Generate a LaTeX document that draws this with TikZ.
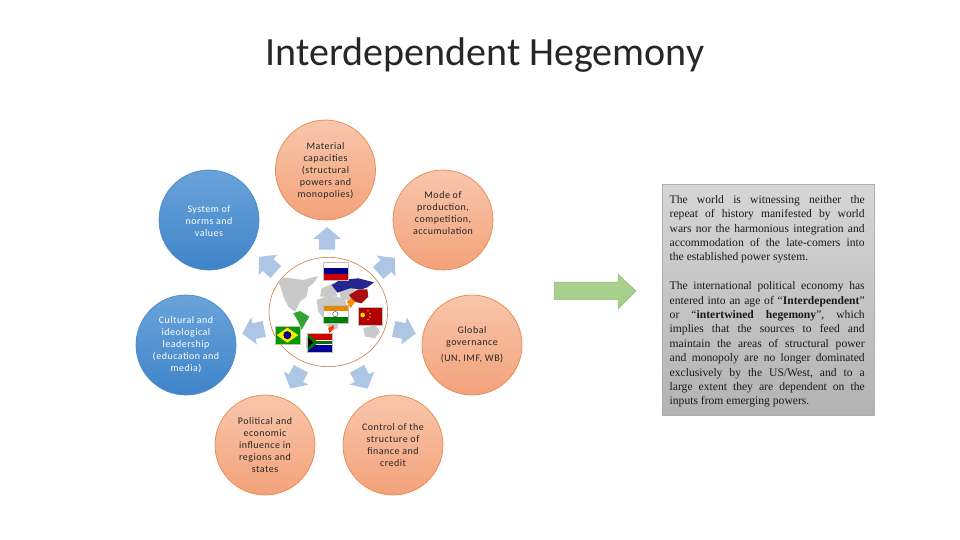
\documentclass[tikz,border=0pt]{standalone}
\usepackage{fontspec}
\setmainfont{Liberation Serif}
\newfontfamily\lblfont[LetterSpace=5]{Carlito}
\newfontfamily\titlefont{Carlito}
\definecolor{blueedge}{HTML}{4A8CCB}
\definecolor{bluetop}{HTML}{6AA3DB}
\definecolor{bluebot}{HTML}{3F84C8}
\definecolor{orangeedge}{HTML}{E58A4E}
\definecolor{orangetop}{HTML}{F8C6AC}
\definecolor{orangebot}{HTML}{F3A27A}
\definecolor{pale}{HTML}{AEC6E5}
\definecolor{landgray}{HTML}{C9C9C9}
\definecolor{greenfill}{HTML}{A8CF8E}
\definecolor{greenedge}{HTML}{94BB7C}
\newcommand{\jl}[1]{\hbox to 195pt{#1}}
\newcommand{\js}{\hskip 0pt plus 1fil\relax}
\tikzset{
 x=1pt,y=-1pt,
 circ/.style={circle,minimum size=100pt,inner sep=0pt,align=center,font=\lblfont\fontsize{10}{12}\selectfont,line width=.7pt},
 bluecirc/.style={circ,draw=blueedge,top color=bluetop,bottom color=bluebot,text=white},
 orangecirc/.style={circ,draw=orangeedge,top color=orangetop,bottom color=orangebot,text=black!85},
 pics/blockarrow/.style={code={\fill[pale] (-10.5,-8) -- (0,-8) -- (0,-14) -- (12,0) -- (0,14) -- (0,8) -- (-10.5,8) -- cycle;}},
 land/.style={fill=landgray,draw=none},
 flagedge/.style={draw=black!25,line width=.3pt}
}
\begin{document}
\begin{tikzpicture}
\useasboundingbox (0,0) rectangle (960,540);
\node[font=\titlefont\fontsize{40}{44}\selectfont,text=black!85] (title) at (485,55) {Interdependent Hegemony};

\node[orangecirc] (material) at (325.5,170) {~\\[-3pt]Material\\capacities\\(structural\\powers and\\monopolies)};
\node[bluecirc] (norms) at (209,220) {~\\[-3pt]System of\\norms and\\values};
\node[orangecirc] (mode) at (443,220) {Mode of\\production,\\competition,\\accumulation\\[2pt]~};
\node[bluecirc] (cultural) at (186,345) {Cultural and\\ideological\\leadership\\(education and\\media)};
\node[orangecirc] (global) at (472,345) {Global\\governance\\[4pt](UN, IMF, WB)};
\node[orangecirc] (political) at (265,445) {Political and\\economic\\influence in\\regions and\\states};
\node[orangecirc] (control) at (393,445) {Control of the\\structure of\\finance and\\credit};

\pic[rotate=90] at (327,239) {blockarrow};
\pic[rotate=42] at (386,266) {blockarrow};
\pic[rotate=-12] at (404,331) {blockarrow};
\pic[rotate=-62] at (362,378) {blockarrow};
\pic[rotate=-118] at (296,378) {blockarrow};
\pic[rotate=-168] at (254,331) {blockarrow};
\pic[rotate=138] at (268,265) {blockarrow};

\begin{scope}[shift={(250,200)},x=.3333pt,y=-.3333pt]
 \draw[draw=orangeedge!90!black,fill=white,line width=.6pt] (235,336) ellipse [x radius=178,y radius=164];
 % land
 \fill[land] (85,245) -- (100,232) -- (160,240) -- (205,228) -- (190,250) -- (175,262) -- (170,290) -- (150,305) -- (135,335) -- (115,320) -- (100,290) -- (95,270) -- cycle;
 \fill[land] (215,265) -- (250,250) -- (262,290) -- (240,290) -- (210,290) -- cycle;
 \fill[land] (200,300) -- (235,287) -- (285,295) -- (290,320) -- (270,345) -- (262,385) -- (240,395) -- (225,360) -- (205,335) -- cycle;
 \fill[land] (340,385) -- (375,375) -- (390,395) -- (375,415) -- (345,410) -- cycle;
 \fill[land] (270,265) -- (300,262) -- (350,290) -- (330,300) -- (300,305) -- (270,290) -- cycle;
 \fill[land] (345,340) -- (370,330) -- (385,345) -- (365,365) -- cycle;
 \fill[green!55!black!80] (130,340) -- (150,333) -- (178,350) -- (165,372) -- (155,390) -- (145,365) -- cycle;
 \fill[blue!50!black!85] (245,255) -- (270,240) -- (325,235) -- (372,247) -- (352,262) -- (335,268) -- (300,265) -- (262,278) -- cycle;
 \fill[red!65!black!95] (297,285) -- (325,268) -- (352,268) -- (355,290) -- (335,310) -- (312,305) -- cycle;
 \fill[orange!90!yellow] (290,305) -- (305,297) -- (315,305) -- (302,325) -- cycle;
 \fill[red!60!orange] (235,385) -- (250,375) -- (252,385) -- (238,400) -- cycle;
 % Russia flag
 \fill[white] (220,185) rectangle (293,203);
 \fill[blue!55!black] (220,203) rectangle (293,222);
 \fill[red!80!black] (220,222) rectangle (293,240);
 \draw[flagedge] (220,185) rectangle (293,240);
 % India flag
 \fill[orange!80!yellow!90!black] (219,315) rectangle (294,333);
 \fill[white] (219,333) rectangle (294,352);
 \fill[green!50!black] (219,352) rectangle (294,370);
 \draw[blue!50!black,line width=.3pt] (256,342.5) circle (8);
 \draw[flagedge] (219,315) rectangle (294,370);
 % China flag
 \fill[red!70!black] (323,322) rectangle (397,376);
 \fill[yellow!90!orange] (338,345) circle (7);
 \fill[yellow!90!orange] (354,332) circle (2.2) (360,341) circle (2.2) (360,351) circle (2.2) (354,359) circle (2.2);
 \draw[flagedge] (323,322) rectangle (397,376);
 % Brazil flag
 \fill[green!60!black] (75,378) rectangle (150,433);
 \fill[yellow!90!orange] (80,405.5) -- (112,383) -- (145,405.5) -- (112,428) -- cycle;
 \fill[blue!50!black] (112,405.5) circle (12);
 \draw[flagedge] (75,378) rectangle (150,433);
 % South Africa flag
 \fill[red!80!black] (171,400) rectangle (245,421);
 \fill[blue!60!black] (171,434) rectangle (245,455);
 \fill[white] (171,421) rectangle (245,434);
 \fill[green!45!black] (171,423.5) -- (245,423.5) -- (245,431.5) -- (171,431.5) -- cycle;
 \fill[green!45!black] (171,400) -- (205,427.5) -- (171,455) -- cycle;
 \fill[black] (171,410) -- (190,427.5) -- (171,445) -- cycle;
 \draw[flagedge] (171,400) rectangle (245,455);
\end{scope}

\fill[fill=greenfill,draw=greenedge,line width=.5pt] (554,282) -- (618,282) -- (618,274) -- (636,291) -- (618,309) -- (618,299.5) -- (554,299.5) -- cycle;

\node[draw=black!32,line width=.7pt,top color=black!16,bottom color=black!30,minimum width=212pt,minimum height=231.5pt,inner sep=0pt] (box) at (768.3,299.8) {};
\node[anchor=north west,inner sep=0pt,align=left,font=\fontsize{11.6}{14.4}\selectfont,text=black!90] (desc) at (669.5,195) {%
\vbox{\setlength{\baselineskip}{14.4pt}\setlength{\lineskip}{0pt}\setlength{\parskip}{0pt}\hsize=195pt\parindent=0pt
\jl{The\js world\js is\js witnessing\js neither\js the}
\jl{repeat\js of\js history\js manifested\js by\js world}
\jl{wars\js nor\js the\js harmonious\js integration\js and}
\jl{accommodation\js of\js the\js late-comers\js into}
\jl{the established power system.\hfil}
\vskip 14.4pt
\jl{The\js international\js political\js economy\js has}
\jl{entered\js into\js an\js age\js of\js “\textbf{Interdependent}”}
\jl{or\js “\textbf{intertwined\js hegemony}”,\js which}
\jl{implies\js that\js the\js sources\js to\js feed\js and}
\jl{maintain\js the\js areas\js of\js structural\js power}
\jl{and\js monopoly\js are\js no\js longer\js dominated}
\jl{exclusively\js by\js the\js US/West,\js and\js to\js a}
\jl{large\js extent\js they\js are\js dependent\js on\js the}
\jl{inputs from emerging powers.\hfil}
}};
\end{tikzpicture}
\end{document}
